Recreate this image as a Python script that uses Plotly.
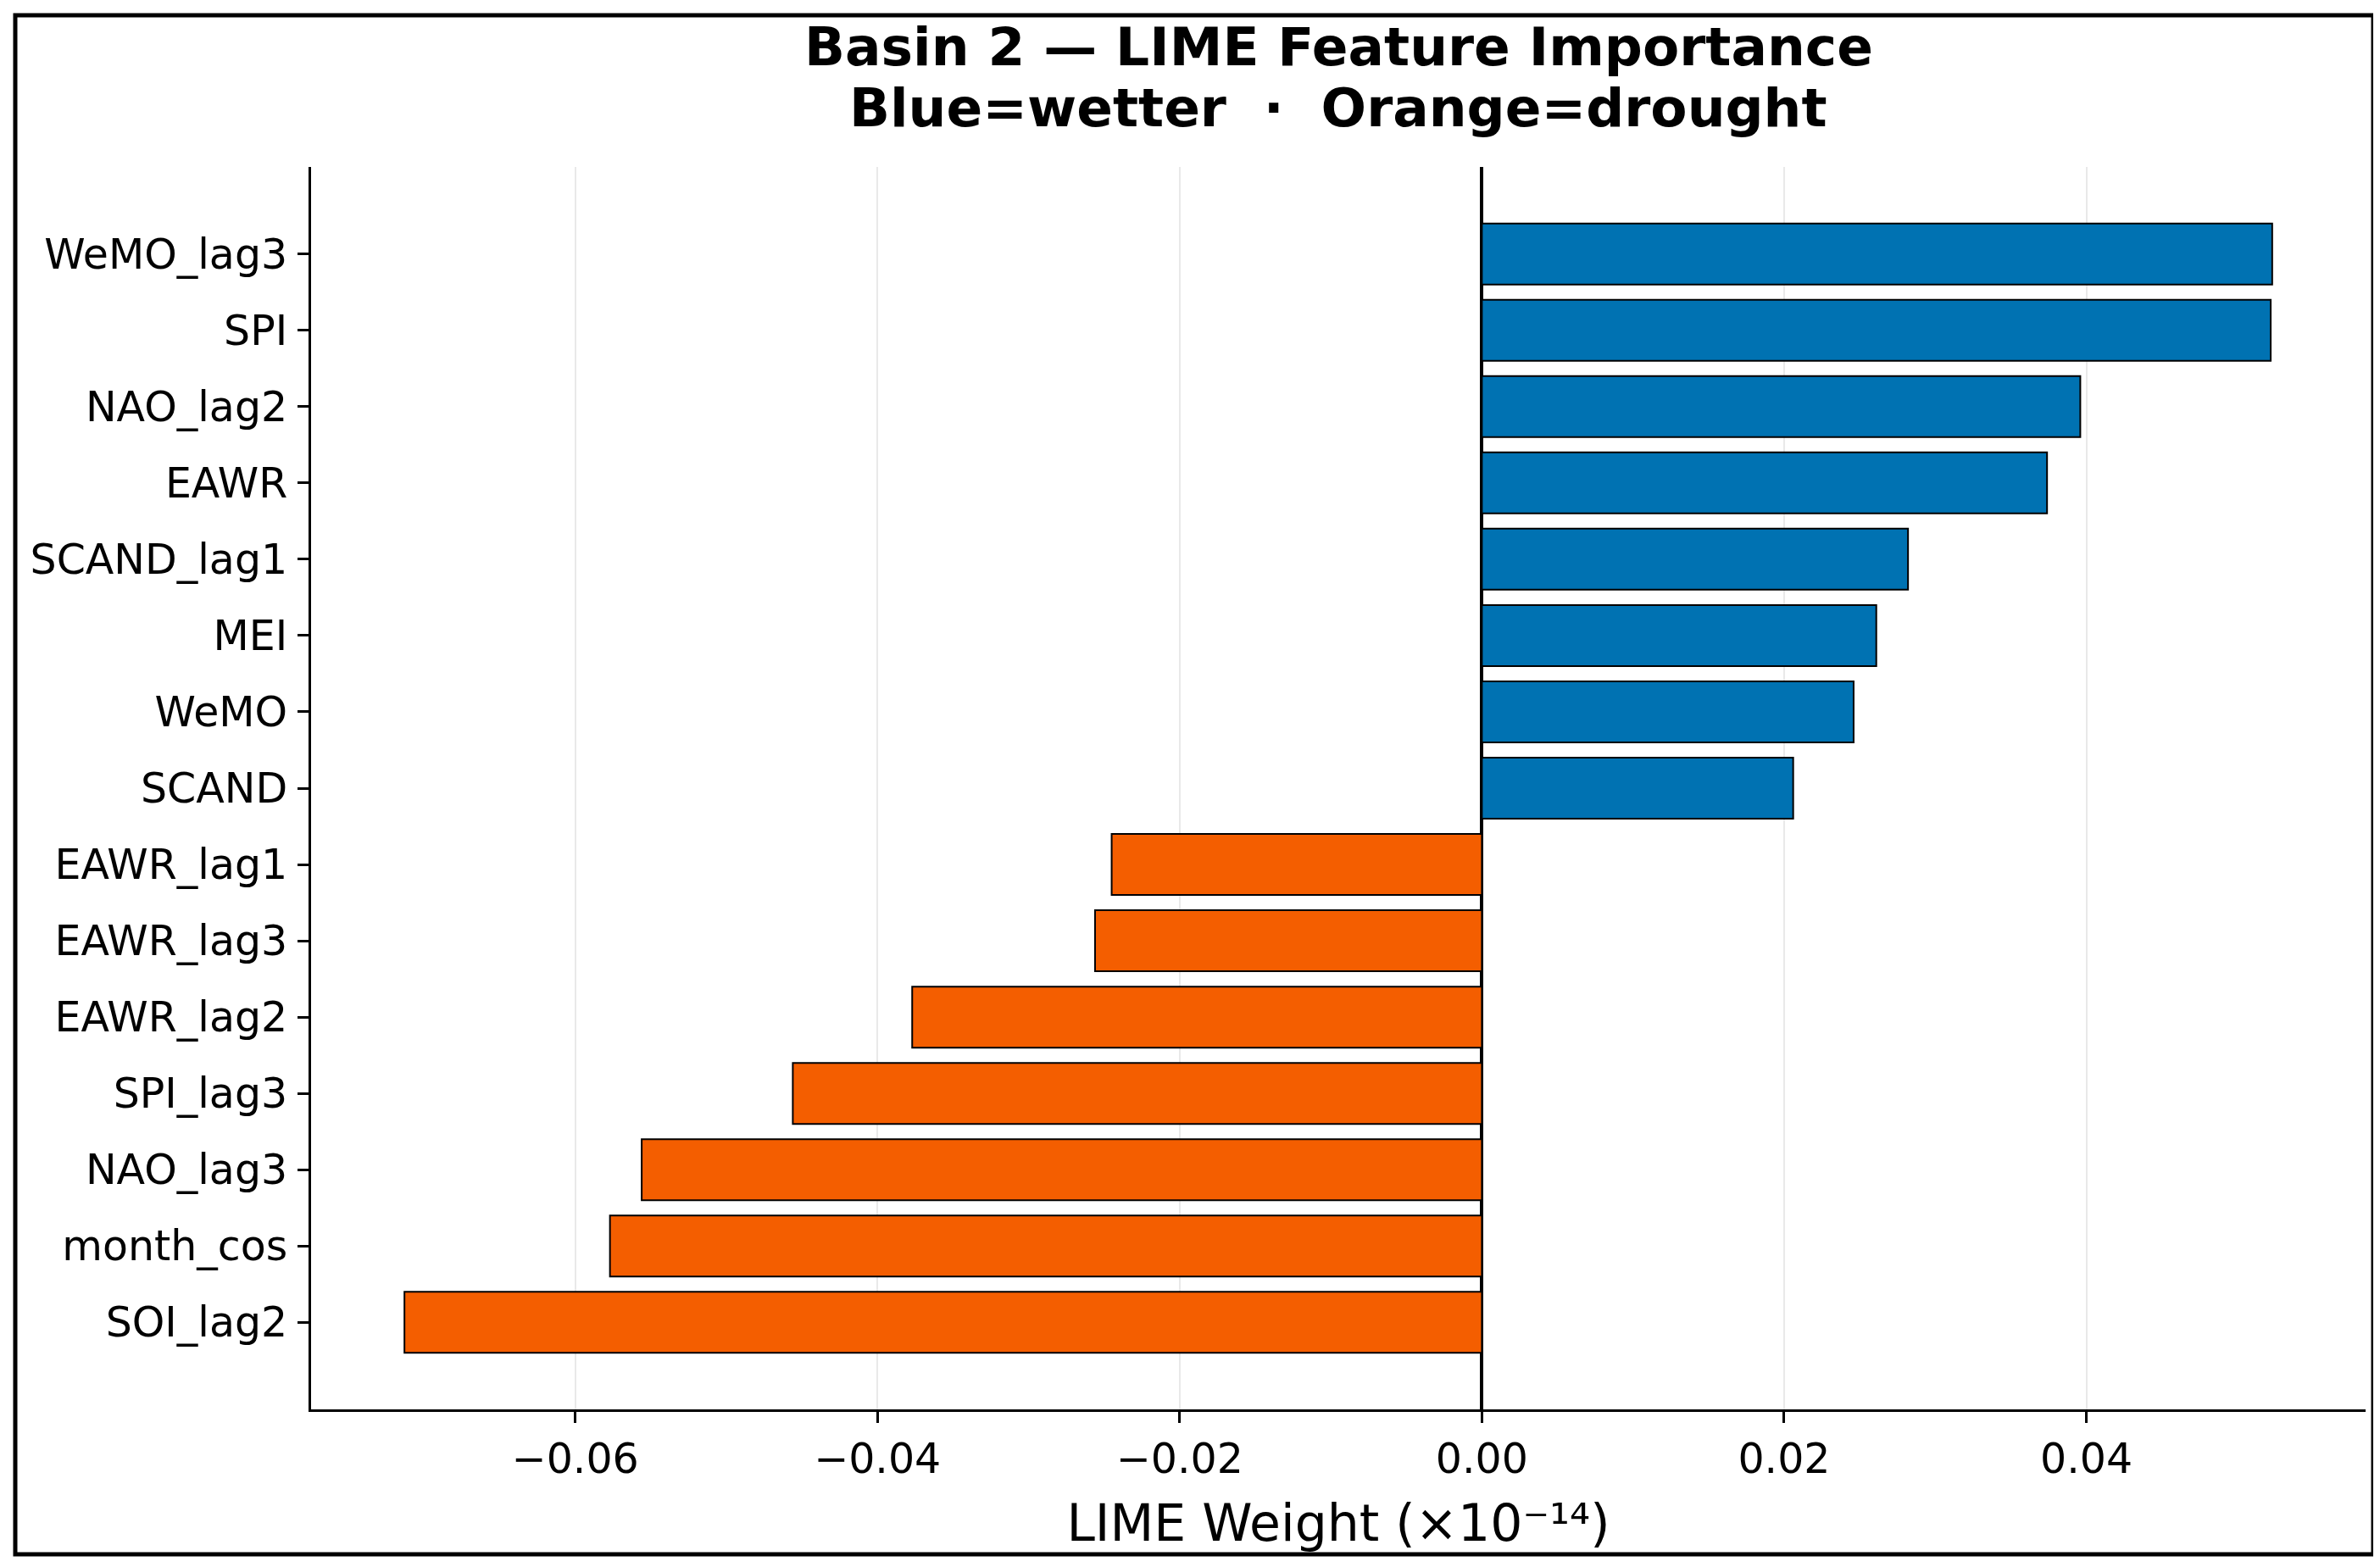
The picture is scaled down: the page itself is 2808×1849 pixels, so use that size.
import plotly.graph_objects as go

# features listed top to bottom, as in the chart
features = ["WeMO_lag3", "SPI", "NAO_lag2", "EAWR", "SCAND_lag1", "MEI", "WeMO", "SCAND",
            "EAWR_lag1", "EAWR_lag3", "EAWR_lag2", "SPI_lag3", "NAO_lag3", "month_cos", "SOI_lag2"]
weights = [0.0523, 0.0522, 0.0396, 0.0374, 0.0282, 0.0261, 0.0246, 0.0206,
           -0.0245, -0.0256, -0.0377, -0.0456, -0.0556, -0.0577, -0.0713]
xticks = [-0.06, -0.04, -0.02, 0.00, 0.02, 0.04]

BLUE = "#0072B2"
ORANGE = "#F45E00"
FONT = "DejaVu Sans"

# page has an 8px body margin, so shift everything back by that much
OFF = 8
W, H = 2808 - OFF, 1849 - OFF
ml, mt = 367 - OFF, 197 - OFF
mr = W - (2791 - OFF)
mb = H - (1663 - OFF)
pw, ph = W - ml - mr, H - mt - mb


def px_x(px):
    return (px - OFF - ml) / pw


def px_y(py):
    return 1 - (py - OFF - mt) / ph


colors = [BLUE if w > 0 else ORANGE for w in weights]

fig = go.Figure()
fig.add_trace(go.Bar(
    x=weights, y=features, orientation="h", width=0.8,
    marker=dict(color=colors, line=dict(color="black", width=2)),
    showlegend=False,
))

# matplotlib style 5% margins
lo, hi = min(weights), max(weights)
pad = 0.05 * (hi - lo)
n = len(features)

fig.update_xaxes(
    range=[lo - pad, hi + pad],
    tickvals=xticks, tickformat=".2f",
    showgrid=True, gridcolor="#e9e9e9", gridwidth=2,
    zeroline=True, zerolinecolor="black", zerolinewidth=4,
    showline=True, linecolor="black", linewidth=3,
    ticks="outside", ticklen=13, tickwidth=3, tickcolor="black",
    tickfont=dict(family=FONT, size=49, color="black"),
    title=dict(text="LIME Weight (×10⁻¹⁴)", standoff=28,
               font=dict(family=FONT, size=60, color="black")),
)
fig.update_yaxes(
    type="category", categoryorder="array", categoryarray=features,
    range=[n - 1 + 1.14, -1.14],
    showgrid=False, zeroline=False,
    showline=True, linecolor="black", linewidth=3,
    ticks="outside", ticklen=13, tickwidth=3, tickcolor="black",
    ticklabelstandoff=2,
    tickfont=dict(family=FONT, size=49, color="black"),
)

fig.add_annotation(text="<b>Basin 2 — LIME Feature Importance</b>", xref="paper", yref="paper",
                   x=0.5, y=px_y(56), xanchor="center", yanchor="middle", showarrow=False,
                   font=dict(family=FONT, size=63, color="black"))
fig.add_annotation(text="<b>Blue=wetter  ·  Orange=drought</b>", xref="paper", yref="paper",
                   x=0.5, y=px_y(128), xanchor="center", yanchor="middle", showarrow=False,
                   font=dict(family=FONT, size=63, color="black"))

# outer frame around the whole figure
fig.add_shape(type="rect", xref="paper", yref="paper",
              x0=px_x(18), x1=px_x(2800), y0=px_y(1834), y1=px_y(18),
              line=dict(color="black", width=5), fillcolor="rgba(0,0,0,0)", layer="above")

fig.update_layout(
    width=W, height=H,
    margin=dict(l=ml, r=mr, t=mt, b=mb),
    plot_bgcolor="white", paper_bgcolor="white",
    font=dict(family=FONT, color="black"),
    bargap=0.2,
)

fig.write_html("out.html")
